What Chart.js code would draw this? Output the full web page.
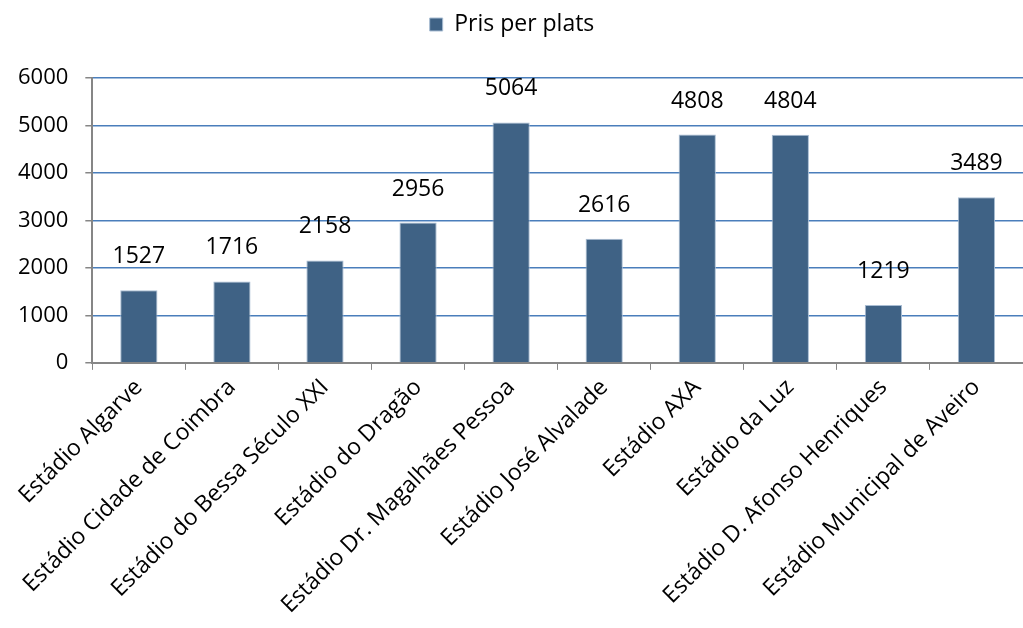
<!DOCTYPE html>
<html>
<head>
<meta charset="utf-8">
<script src="https://cdn.jsdelivr.net/npm/chart.js@4/dist/chart.umd.min.js"></script>
<style>
    html, body { margin: 0; padding: 0; background: #fff; }
    #wrap { width: 1023px; height: 628px; }
</style>
</head>
<body>
<div id="wrap"><canvas id="chart" width="1023" height="628"></canvas></div>
<script>
// data
const stadiums = [
    'Estádio Algarve',
    'Estádio Cidade de Coimbra',
    'Estádio do Bessa Século XXI',
    'Estádio do Dragão',
    'Estádio Dr. Magalhães Pessoa',
    'Estádio José Alvalade',
    'Estádio AXA',
    'Estádio da Luz',
    'Estádio D. Afonso Henriques',
    'Estádio Municipal de Aveiro'
];
const pricePerSeat = [1527, 1716, 2158, 2956, 5064, 2616, 4808, 4804, 1219, 3489];
const seriesLabel = 'Pris per plats';
const yTicks = [0, 1000, 2000, 3000, 4000, 5000, 6000];

const FONT = "'Open Sans', 'DejaVu Sans', sans-serif";

// Draw the value above every bar
const valueLabels = {
    id: 'valueLabels',
    afterDatasetsDraw(chart) {
        const ctx = chart.ctx;
        const meta = chart.getDatasetMeta(0);
        ctx.save();
        ctx.font = '23px ' + FONT;
        ctx.fillStyle = '#000';
        ctx.textAlign = 'center';
        ctx.textBaseline = 'alphabetic';
        meta.data.forEach((bar, i) => {
            ctx.fillText(String(pricePerSeat[i]), bar.x, bar.y - 27);
        });
        ctx.restore();
    }
};

// Extra space between legend and plot
const legendGap = {
    id: 'legendGap',
    beforeInit(chart) {
        const fit = chart.legend.fit;
        chart.legend.fit = function () {
            fit.bind(chart.legend)();
            this.height += 32;
        };
    }
};

new Chart(document.getElementById('chart').getContext('2d'), {
    type: 'bar',
    data: {
        labels: stadiums,
        datasets: [{
            label: seriesLabel,
            data: pricePerSeat,
            backgroundColor: '#3F6285',
            borderColor: '#A9BDD3',
            borderWidth: 1,
            categoryPercentage: 1,
            barPercentage: 0.4
        }]
    },
    options: {
        responsive: false,
        animation: false,
        layout: { padding: { top: 3, right: 0, left: 1, bottom: 5 } },
        plugins: {
            legend: {
                position: 'top',
                labels: {
                    boxWidth: 13,
                    boxHeight: 13,
                    padding: 10,
                    color: '#000',
                    font: { size: 23, family: FONT }
                }
            },
            tooltip: { enabled: false }
        },
        scales: {
            y: {
                min: 0,
                max: 6000,
                afterBuildTicks: axis => {
                    axis.ticks = yTicks.map(v => ({ value: v }));
                },
                grid: {
                    color: '#4A7EBB',
                    lineWidth: 1.5,
                    tickLength: 7,
                    tickColor: '#868686'
                },
                border: { color: '#868686', width: 2 },
                ticks: {
                    color: '#000',
                    padding: 17,
                    font: { size: 22, family: FONT },
                    callback: v => String(v)
                }
            },
            x: {
                grid: {
                    drawOnChartArea: false,
                    tickLength: 7,
                    color: '#868686'
                },
                border: { color: '#868686', width: 2 },
                ticks: {
                    color: '#000',
                    minRotation: 45,
                    maxRotation: 45,
                    padding: 4,
                    font: { size: 23, family: FONT }
                }
            }
        }
    },
    plugins: [valueLabels, legendGap]
});
</script>
</body>
</html>
